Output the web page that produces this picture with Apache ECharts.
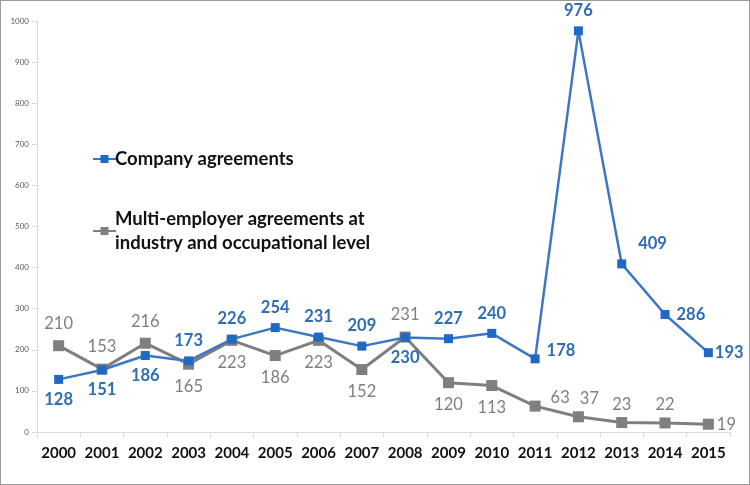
<!DOCTYPE html>
<html>
<head>
<meta charset="utf-8">
<script src="https://cdn.jsdelivr.net/npm/echarts@6/dist/echarts.min.js"></script>
<style>
html,body{margin:0;padding:0;background:#fff;}
#wrap{width:750px;height:485px;box-sizing:border-box;border:1px solid #9a9a9a;position:relative;}
#chart{position:absolute;left:-1px;top:-1px;width:750px;height:485px;}
</style>
</head>
<body>
<div id="wrap"><div id="chart"></div></div>
<script>
var years = ['2000','2001','2002','2003','2004','2005','2006','2007','2008','2009','2010','2011','2012','2013','2014','2015'];
var companyValues = [128,151,186,173,226,254,231,209,230,227,240,178,976,409,286,193];
var multiValues = [210,153,216,165,223,186,223,152,231,120,113,63,37,23,22,19];
var companyName = 'Company agreements';
var multiName = 'Multi-employer agreements at\nindustry and occupational level';

// label placement (style, kept separate from values)
var companyLabelPos = ['bottom','bottom','bottom','top','top','top','top','top','bottom','top','top','right','top','right','right','right'];
var multiLabelPos = ['top','top','top','bottom','bottom','bottom','bottom','bottom','top','bottom','bottom','right','top','top','top','right'];

var blueLabel = '#2e6db4', grayLabel = '#7f7f7f';
function mkData(vals, pos, extra){
  return vals.map(function(v,i){
    var lbl = {position: pos[i]};
    if (extra && extra[i]) { for (var k in extra[i]) lbl[k] = extra[i][k]; }
    return {value: v, label: lbl};
  });
}
var companyExtra = {11:{offset:[0,-8]}, 13:{offset:[5,-20]}, 15:{distance:2}};
var multiExtra = {11:{offset:[2,-8]}, 15:{distance:3}, 12:{distance:4, offset:[11,0]}, 13:{distance:4}, 14:{distance:4}};

var chart = echarts.init(document.getElementById('chart'), null, {renderer:'canvas'});
chart.setOption({
  animation:false,
  textStyle:{fontFamily:'Lato'},
  grid:{left:37, right:20, top:21, bottom:53},
  legend:{
    orient:'vertical', left:87, top:142, itemGap:24,
    itemWidth:23, itemHeight:10,
    textStyle:{fontSize:18.5, fontWeight:'bold', color:'#111', lineHeight:24, fontFamily:'Lato', padding:[0,0,0,-6]},
    data:[
      {name: companyName},
      {name: multiName, textStyle:{padding:[24,0,0,-6]}}
    ]
  },
  xAxis:{
    type:'category', data:years, boundaryGap:true,
    axisLine:{lineStyle:{color:'#d9d9d9'}},
    axisTick:{show:true, length:5, lineStyle:{color:'#d9d9d9'}},
    axisLabel:{interval:0, fontSize:15, fontWeight:'bold', color:'#111', margin:14, fontFamily:'Lato'}
  },
  yAxis:{
    type:'value', min:0, max:1000, interval:100,
    axisLine:{show:true, lineStyle:{color:'#d9d9d9'}},
    axisTick:{show:true, length:5, lineStyle:{color:'#d9d9d9'}},
    splitLine:{show:false},
    axisLabel:{fontSize:8, color:'#595959', margin:8, formatter:function(v){return String(v);}}
  },
  series:[
    {
      name: multiName, type:'line', data: mkData(multiValues, multiLabelPos, multiExtra),
      symbol:'rect', symbolSize:11,
      lineStyle:{color:'#7f7f7f', width:3},
      itemStyle:{color:'#7f7f7f'},
      label:{show:true, fontSize:16.5, color:grayLabel, distance:8, fontFamily:'Lato'},
      z:2
    },
    {
      name: companyName, type:'line', data: mkData(companyValues, companyLabelPos, companyExtra),
      symbol:'rect', symbolSize:9,
      lineStyle:{color:'#3d77c4', width:2.5},
      itemStyle:{color:'#1f68c4'},
      label:{show:true, fontSize:16.5, fontWeight:'bold', color:blueLabel, distance:7, fontFamily:'Lato'},
      z:3
    }
  ]
});
</script>
</body>
</html>
